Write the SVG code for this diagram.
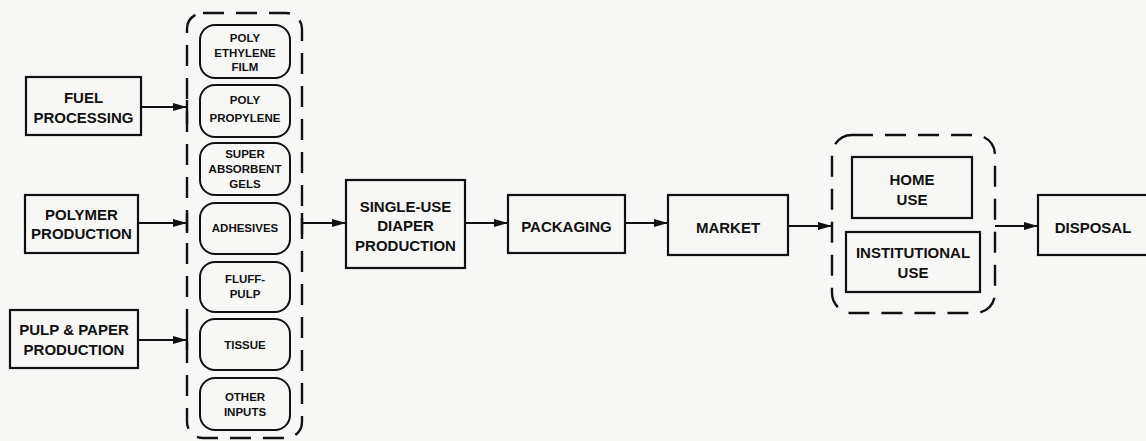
<svg xmlns="http://www.w3.org/2000/svg" width="1146" height="441" viewBox="0 0 1146 441">
<defs>
<marker id="ah" viewBox="0 0 14 8" refX="14" refY="4" markerWidth="14" markerHeight="8" markerUnits="userSpaceOnUse" orient="auto">
<path d="M0,0 L14,4 L0,8 Z" fill="#111"/>
</marker>
<style>
.bg{fill:#f7f7f5}
.box{fill:none;stroke:#111;stroke-width:2.2}
.pill{fill:none;stroke:#111;stroke-width:2}
.dash{fill:none;stroke:#111;stroke-width:2.4;stroke-dasharray:21 12}
.tick{stroke:#111;stroke-width:2.4}
.t{font-family:"Liberation Sans",Arial,sans-serif;font-weight:bold;font-size:15px;fill:#111;text-anchor:middle}
.s{font-family:"Liberation Sans",Arial,sans-serif;font-weight:bold;font-size:11.5px;fill:#111;text-anchor:middle}
.c{fill:none;stroke:#111;stroke-width:2.2;marker-end:url(#ah)}
</style>
</defs>
<rect class="bg" x="0" y="0" width="1146" height="441"/>
<g id="inputs-group"><rect class="dash" x="187" y="13" width="115" height="425" rx="16"/></g>
<g id="use-group"><rect class="dash" x="832" y="135" width="163" height="178" rx="20"/></g>
<g id="fuel"><rect class="box" x="26" y="77" width="115" height="58"/><text class="t" x="83.5" y="103">FUEL</text><text class="t" x="83.5" y="123">PROCESSING</text></g>
<g id="polymer"><rect class="box" x="25" y="195" width="113" height="58"/><text class="t" x="81.5" y="220">POLYMER</text><text class="t" x="81.5" y="239">PRODUCTION</text></g>
<g id="pulp"><rect class="box" x="10" y="310" width="128" height="58"/><text class="t" x="74" y="335">PULP &amp; PAPER</text><text class="t" x="74" y="355">PRODUCTION</text></g>
<g id="pe"><rect class="pill" x="200" y="25" width="90" height="53" rx="15"/><text class="s" x="245" y="42">POLY</text><text class="s" x="245" y="57">ETHYLENE</text><text class="s" x="245" y="71">FILM</text></g>
<g id="pp"><rect class="pill" x="200" y="85" width="90" height="52" rx="15"/><text class="s" x="245" y="104">POLY</text><text class="s" x="245" y="122">PROPYLENE</text></g>
<g id="sag"><rect class="pill" x="200" y="143" width="90" height="52" rx="15"/><text class="s" x="245" y="158">SUPER</text><text class="s" x="245" y="173">ABSORBENT</text><text class="s" x="245" y="188">GELS</text></g>
<g id="adh"><rect class="pill" x="200" y="203" width="90" height="51" rx="15"/><text class="s" x="245" y="232">ADHESIVES</text></g>
<g id="fluff"><rect class="pill" x="200" y="262" width="90" height="50" rx="15"/><text class="s" x="245" y="283">FLUFF-</text><text class="s" x="245" y="298">PULP</text></g>
<g id="tissue"><rect class="pill" x="200" y="319" width="90" height="51" rx="15"/><text class="s" x="245" y="349">TISSUE</text></g>
<g id="other"><rect class="pill" x="200" y="378" width="90" height="52" rx="15"/><text class="s" x="245" y="401">OTHER</text><text class="s" x="245" y="416">INPUTS</text></g>
<g id="diaper"><rect class="box" x="346" y="180" width="119" height="88"/><text class="t" x="405.5" y="212">SINGLE-USE</text><text class="t" x="405.5" y="231">DIAPER</text><text class="t" x="405.5" y="251">PRODUCTION</text></g>
<g id="packaging"><rect class="box" x="508" y="195" width="117" height="58"/><text class="t" x="566.5" y="232">PACKAGING</text></g>
<g id="market"><rect class="box" x="668" y="195" width="120" height="60"/><text class="t" x="728" y="233">MARKET</text></g>
<g id="home"><rect class="box" x="852" y="157" width="120" height="61"/><text class="t" x="912" y="185">HOME</text><text class="t" x="912" y="205">USE</text></g>
<g id="inst"><rect class="box" x="846" y="232" width="134" height="60"/><text class="t" x="913" y="258">INSTITUTIONAL</text><text class="t" x="913" y="278">USE</text></g>
<g id="disposal"><rect class="box" x="1038" y="195" width="115" height="60"/><text class="t" x="1093" y="233">DISPOSAL</text></g>
<g id="connectors">
<path class="c" d="M141,107 H187"/>
<path class="tick" d="M187,100 V124"/>
<path class="c" d="M138,223 H187"/>
<path class="tick" d="M187,213 V233"/>
<path class="c" d="M138,340 H187"/>
<path class="tick" d="M187,330 V350"/>
<path class="tick" d="M302,213 V234"/>
<path class="c" d="M302,223 H346"/>
<path class="c" d="M465,223 H508"/>
<path class="c" d="M625,223 H668"/>
<path class="c" d="M788,226 H832"/>
<path class="c" d="M995,226 H1038"/>
</g>
</svg>
